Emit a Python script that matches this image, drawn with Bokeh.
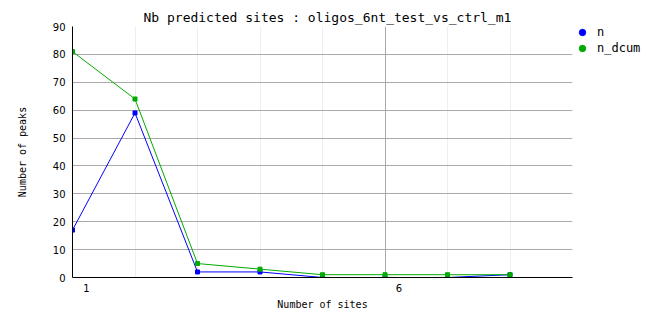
from bokeh.plotting import figure
from bokeh.models import (ColumnDataSource, Range1d, FixedTicker, Legend, LegendItem,
                          LinearAxis, Title)
from bokeh.embed import file_html
from bokeh.resources import INLINE

# ---- data ----
sites = [1, 2, 3, 4, 5, 6, 7, 8]
n = [17, 59, 2, 2, 0, 0, 0, 1]
n_dcum = [81, 64, 5, 3, 1, 1, 1, 1]
x_major = [1, 6]
x_minor = [2, 3, 4, 5, 7, 8, 9]
y_ticks = [0, 10, 20, 30, 40, 50, 60, 70, 80, 90]
title_text = "Nb predicted sites : oligos_6nt_test_vs_ctrl_m1"

BLUE = "#0000ff"
GREEN = "#00aa00"
MONO = "DejaVu Sans Mono"

XMIN, XMAX = 1, 9
FRAME_W, FRAME_H = 500, 251
LABEL_SHIFT_PX = 14  # tick labels drawn to the right of their ticks
shift = LABEL_SHIFT_PX * (XMAX - XMIN) / FRAME_W

src = ColumnDataSource(dict(x=sites, n=n, d=n_dcum))

p = figure(frame_width=FRAME_W, frame_height=FRAME_H, output_backend="svg",
           toolbar_location=None,
           x_range=Range1d(XMIN, XMAX), y_range=Range1d(0, 90),
           x_axis_location=None,
           min_border_left=72, min_border_right=90, min_border_top=26,
           min_border_bottom=51, title=None)
p.outline_line_color = None
p.background_fill_color = "white"
p.border_fill_color = "white"

# title
t = Title(text=title_text, align="left", offset=71, text_font=MONO,
          text_font_size="13px", text_font_style="normal", text_color="black",
          standoff=4)
p.add_layout(t, "above")

# grids
p.xgrid.ticker = FixedTicker(ticks=x_major, minor_ticks=x_minor)
p.xgrid.grid_line_color = "#aaaaaa"
p.xgrid.minor_grid_line_color = "#eeeeee"
p.yaxis.ticker = FixedTicker(ticks=y_ticks)
p.ygrid.ticker = FixedTicker(ticks=y_ticks)
p.ygrid.grid_line_color = "#aaaaaa"

# x axis on a shifted range so its labels sit right of the ticks
p.extra_x_ranges = {"lbl": Range1d(XMIN - shift, XMAX - shift)}
xax = LinearAxis(x_range_name="lbl", ticker=FixedTicker(ticks=x_major))
p.add_layout(xax, "below")

for ax in (xax, p.yaxis[0]):
    ax.axis_line_color = "black"
    ax.axis_line_width = 1
    ax.major_tick_line_color = None
    ax.minor_tick_line_color = None
    ax.major_tick_out = 0
    ax.major_tick_in = 0
    ax.minor_tick_out = 0
    ax.major_label_text_font = "DejaVu Sans"
    ax.major_label_text_font_size = "10px"
    ax.major_label_text_color = "black"
    ax.axis_label_text_font = MONO
    ax.axis_label_text_font_size = "10px"
    ax.axis_label_text_font_style = "normal"
    ax.axis_label_text_color = "black"

p.yaxis.major_label_standoff = 7
p.yaxis.axis_label = "Number of peaks"
p.yaxis.axis_label_standoff = 22

xax.major_label_standoff = 6
xax.axis_label = "Number of sites"
xax.axis_label_standoff = 4

# series
p.line("x", "n", source=src, color=BLUE, line_width=1)
p.line("x", "d", source=src, color=GREEN, line_width=1)
p.scatter("x", "n", source=src, marker="square", size=4, color=BLUE)
p.scatter("x", "d", source=src, marker="square", size=4, color=GREEN)

# legend-only markers (not drawn in the plot: NaN coordinates)
nan = float("nan")
leg_src = ColumnDataSource(dict(x=[nan], y=[nan]))
ln = p.scatter("x", "y", source=leg_src, marker="circle", size=7, color=BLUE)
ld = p.scatter("x", "y", source=leg_src, marker="circle", size=7, color=GREEN)
legend = Legend(items=[LegendItem(label="n", renderers=[ln]),
                       LegendItem(label="n_dcum", renderers=[ld])],
                location=(1, FRAME_H - 30), border_line_color=None, background_fill_alpha=0,
                label_text_font=MONO, label_text_font_size="12px", label_text_color="black",
                glyph_width=18, glyph_height=16, label_standoff=6, spacing=0,
                padding=0, margin=0, label_height=14)
p.add_layout(legend, "right")

open("out.html", "w").write(file_html(p, INLINE))
